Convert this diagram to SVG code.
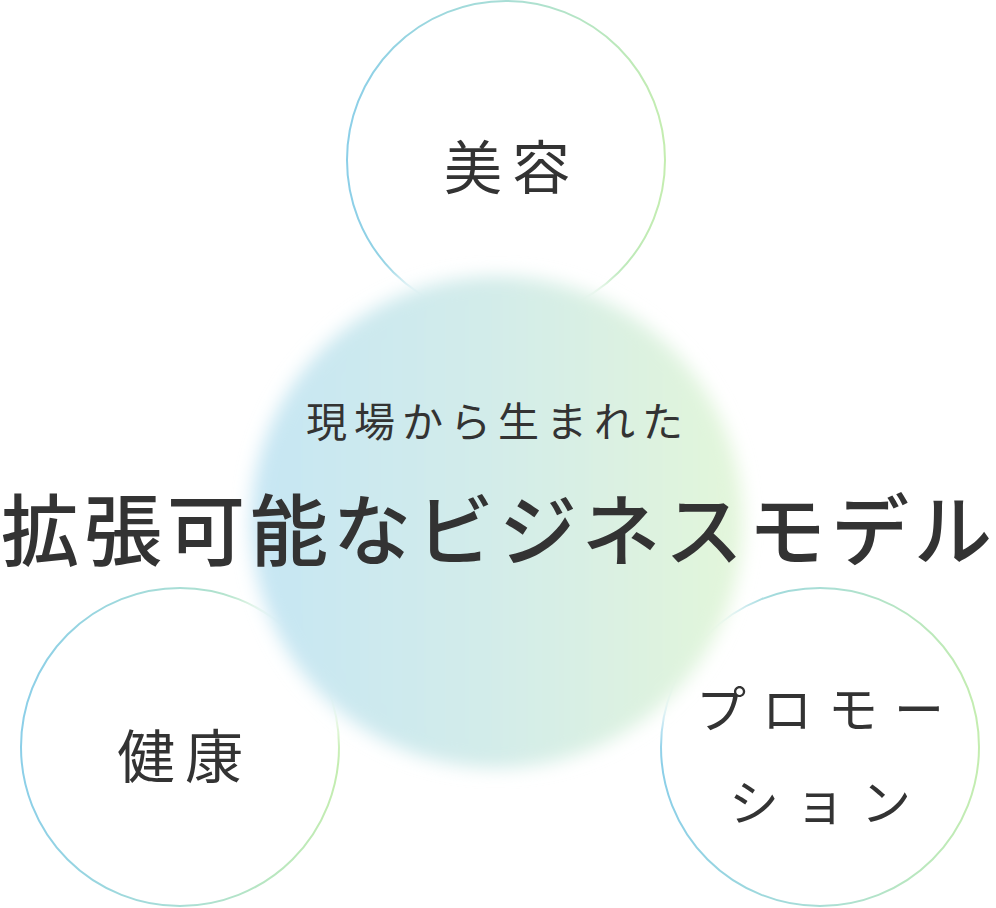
<svg xmlns="http://www.w3.org/2000/svg" width="996" height="908" viewBox="0 0 996 908">
  <defs>
    <linearGradient id="ring" x1="0" y1="0" x2="1" y2="0">
      <stop offset="0" stop-color="#8ccfe8"/>
      <stop offset="0.5" stop-color="#a9ded6"/>
      <stop offset="1" stop-color="#c4edb0"/>
    </linearGradient>
    <linearGradient id="core" x1="0" y1="0" x2="1" y2="0">
      <stop offset="0" stop-color="#c6e6f4"/>
      <stop offset="0.5" stop-color="#d3ece9"/>
      <stop offset="1" stop-color="#e3f6da"/>
    </linearGradient>
    <filter id="soft" x="-20%" y="-20%" width="140%" height="140%">
      <feGaussianBlur stdDeviation="9"/>
    </filter>
    <filter id="halo" x="-20%" y="-20%" width="140%" height="140%">
      <feGaussianBlur stdDeviation="14"/>
    </filter>
  </defs>
  <style>
    .ring { fill: #ffffff; stroke: url(#ring); stroke-width: 2; }
    .lbl { font-family: "Noto Sans CJK JP", "Noto Sans", sans-serif; fill: #333333; text-anchor: middle; }
    .node { font-size: 58px; letter-spacing: 10px; }
    .promo { font-size: 50px; letter-spacing: 16px; }
    .sub { font-size: 41px; letter-spacing: 7px; }
    .title { font-size: 78px; letter-spacing: 5px; font-weight: 500; }
  </style>

  <g id="node-biyou">
    <circle class="ring" cx="506" cy="160" r="159"/>
  </g>
  <g id="node-kenkou">
    <circle class="ring" cx="180" cy="747" r="159"/>
  </g>
  <g id="node-promotion">
    <circle class="ring" cx="820" cy="747" r="159"/>
  </g>

  <g id="node-center">
    <circle cx="497" cy="522" r="262" fill="#ffffff" filter="url(#halo)"/>
    <circle cx="497" cy="522" r="246" fill="url(#core)" filter="url(#soft)"/>
  </g>

  <g id="connectors"></g>

  <g id="labels">
    <text class="lbl node" x="512" y="189">美容</text>
    <text class="lbl node" x="185" y="778">健康</text>
    <text class="lbl promo" x="828" y="728">プロモー</text>
    <text class="lbl promo" x="828" y="821">ション</text>
    <text class="lbl sub" x="498" y="437">現場から生まれた</text>
    <text class="lbl title" x="499" y="560">拡張可能なビジネスモデル</text>
  </g>
</svg>
